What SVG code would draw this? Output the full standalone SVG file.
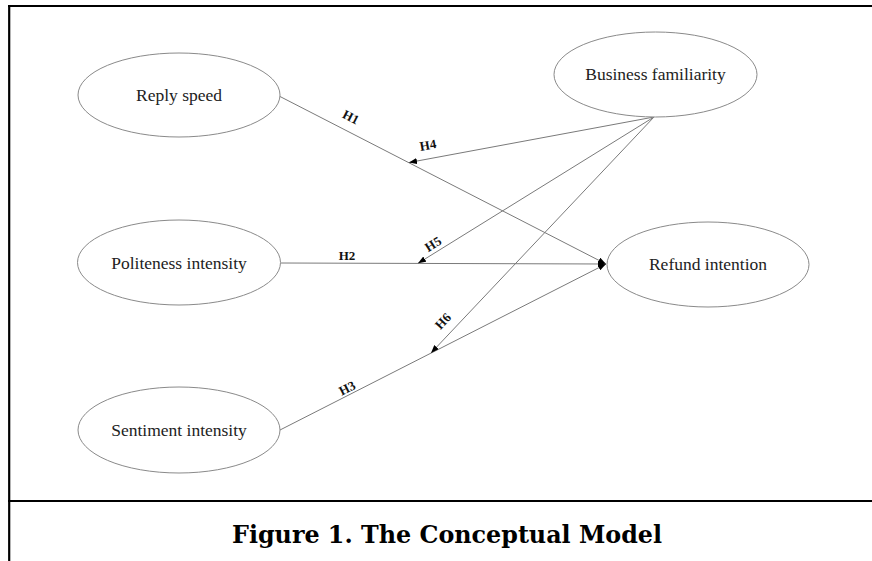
<svg xmlns="http://www.w3.org/2000/svg" width="872" height="561" viewBox="0 0 872 561">
  <style>
    .node ellipse { fill: #ffffff; stroke: #8a8a8a; stroke-width: 1; }
    .node text { font-family: "Liberation Serif", "Times New Roman", serif; font-size: 17.5px; fill: #222222; text-anchor: middle; }
    .edge { stroke: #7a7a7a; stroke-width: 1; fill: none; marker-end: url(#arrow); }
    .lbl { font-family: "Liberation Serif", "Times New Roman", serif; font-size: 13px; font-weight: bold; fill: #111111; text-anchor: middle; dominant-baseline: central; }
    .frame { stroke: #000000; stroke-width: 2.2; fill: none; }
    .caption { font-family: "DejaVu Serif", "Liberation Serif", serif; font-weight: bold; font-size: 25px; fill: #000000; text-anchor: middle; }
  </style>
  <defs>
    <marker id="arrow" markerWidth="8" markerHeight="6" refX="8" refY="3" orient="auto" markerUnits="userSpaceOnUse">
      <path d="M0,0 L8,3 L0,6 Z" fill="#000000"/>
    </marker>
  </defs>
  <rect x="0" y="0" width="872" height="561" fill="#ffffff"/>
  <g id="frame">
    <line class="frame" x1="8" y1="6" x2="872" y2="6"/>
    <line class="frame" x1="9.2" y1="5" x2="9.2" y2="561"/>
    <line class="frame" x1="8" y1="501" x2="872" y2="501"/>
  </g>
  <g id="connectors">
    <line class="edge" x1="280" y1="96.5" x2="606" y2="264"/>
    <line class="edge" x1="281" y1="263" x2="606" y2="264"/>
    <line class="edge" x1="280" y1="430" x2="606" y2="264"/>
    <line class="edge" x1="654" y1="117" x2="409" y2="162.5"/>
    <line class="edge" x1="654" y1="117" x2="418" y2="263.3"/>
    <line class="edge" x1="654" y1="117" x2="431" y2="353"/>
    <text class="lbl" x="351" y="117" transform="rotate(27 351 117)">H1</text>
    <text class="lbl" x="347" y="255">H2</text>
    <text class="lbl" x="347" y="388" transform="rotate(-27 347 388)">H3</text>
    <text class="lbl" x="428" y="145" transform="rotate(-10 428 145)">H4</text>
    <text class="lbl" x="433" y="244" transform="rotate(-32 433 244)">H5</text>
    <text class="lbl" x="443" y="321" transform="rotate(-47 443 321)">H6</text>
  </g>
  <g id="reply-speed" class="node">
    <ellipse cx="179" cy="95" rx="101" ry="42"/>
    <text x="179" y="101">Reply speed</text>
  </g>
  <g id="politeness-intensity" class="node">
    <ellipse cx="179" cy="262.5" rx="101.5" ry="42.5"/>
    <text x="179" y="268.5">Politeness intensity</text>
  </g>
  <g id="sentiment-intensity" class="node">
    <ellipse cx="179" cy="430" rx="101" ry="43"/>
    <text x="179" y="435.5">Sentiment intensity</text>
  </g>
  <g id="business-familiarity" class="node">
    <ellipse cx="655.5" cy="74.5" rx="101.5" ry="42.5"/>
    <text x="655.5" y="80">Business familiarity</text>
  </g>
  <g id="refund-intention" class="node">
    <ellipse cx="708" cy="264.5" rx="101" ry="42.5"/>
    <text x="708" y="270">Refund intention</text>
  </g>
  <text class="caption" x="447" y="543" textLength="430" lengthAdjust="spacingAndGlyphs">Figure 1. The Conceptual Model</text>
</svg>
